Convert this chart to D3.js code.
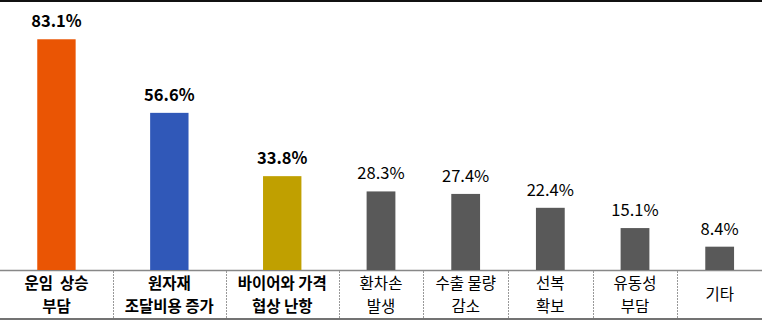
<!DOCTYPE html>
<html>
<head>
<meta charset="utf-8">
<script src="https://cdn.jsdelivr.net/npm/d3@7"></script>
<style>
  body { margin: 0; background: #fff; }
  text { font-family: "Noto Sans CJK KR", "Noto Sans", sans-serif; }
</style>
</head>
<body>
<div id="chart"></div>
<script>
// data
const categories = [
  ['운임  상승', '부담'],
  ['원자재', '조달비용 증가'],
  ['바이어와 가격', '협상 난항'],
  ['환차손', '발생'],
  ['수출 물량', '감소'],
  ['선복', '확보'],
  ['유동성', '부담'],
  ['기타']
];
const values = [83.1, 56.6, 33.8, 28.3, 27.4, 22.4, 15.1, 8.4];
const barColors = ['#ea5504', '#3058b8', '#c0a000', '#595959', '#595959', '#595959', '#595959', '#595959'];

const width = 762;
const height = 320;
const baseY = 270;
const topCount = 3;   // first three are emphasised: wider column, bold text

const svg = d3.select('#chart')
  .append('svg')
    .attr('width', width)
    .attr('height', height)
    .attr('viewBox', [0, 0, width, height]);

// wider columns for the top three, using cumulative units
const weights = values.map((d, i) => i < topCount ? 4 / 3 : 1);
const edges = [0];
weights.forEach(w => edges.push(edges[edges.length - 1] + w));
const x = d3.scaleLinear()
  .domain([0, edges[edges.length - 1]])
  .range([0, width]);

const y = d3.scaleLinear()
  .domain([0, 85])
  .range([baseY, 34]);

const cols = values.map((v, i) => ({
  v: v,
  i: i,
  x0: x(edges[i]),
  x1: x(edges[i + 1]),
  label: categories[i],
  color: barColors[i]
}));

// frame lines
svg.append('line')
  .attr('x1', 0).attr('x2', width)
  .attr('y1', 1).attr('y2', 1)
  .attr('stroke', '#111')
  .attr('stroke-width', 2);

svg.append('line')
  .attr('x1', 0).attr('x2', width)
  .attr('y1', baseY + 0.5).attr('y2', baseY + 0.5)
  .attr('stroke', '#888')
  .attr('stroke-width', 1.5);

svg.append('line')
  .attr('x1', 0).attr('x2', width)
  .attr('y1', height - 1).attr('y2', height - 1)
  .attr('stroke', '#444')
  .attr('stroke-width', 1.5);

// dashed dividers in the label row
svg.selectAll('.divider')
  .data(cols.slice(1))
  .join('line')
    .attr('class', 'divider')
    .attr('x1', d => Math.round(d.x0) + 0.5)
    .attr('x2', d => Math.round(d.x0) + 0.5)
    .attr('y1', baseY + 1)
    .attr('y2', height - 2)
    .attr('stroke', '#999')
    .attr('stroke-width', 1)
    .attr('stroke-dasharray', '2,1');

const g = svg.selectAll('.col')
  .data(cols)
  .join('g')
    .attr('class', 'col');

// bars
g.append('rect')
  .attr('x', d => (d.x0 + d.x1) / 2 - (d.x1 - d.x0) * 0.17)
  .attr('width', d => (d.x1 - d.x0) * 0.34)
  .attr('y', d => y(d.v))
  .attr('height', d => baseY - y(d.v))
  .attr('fill', d => d.color);

// value labels
g.append('text')
  .attr('x', d => (d.x0 + d.x1) / 2)
  .attr('y', d => y(d.v) - 12)
  .attr('text-anchor', 'middle')
  .style('font-size', '16.5px')
  .style('font-weight', d => d.i < topCount ? 'bold' : 'normal')
  .attr('fill', '#000')
  .text(d => d.v.toFixed(1) + '%');

// category labels
const catText = g.append('text')
  .attr('text-anchor', 'middle')
  .style('font-size', '15.5px')
  .style('font-weight', d => d.i < topCount ? 'bold' : 'normal')
  .style('white-space', 'pre')
  .attr('fill', '#000');

catText.selectAll('tspan')
  .data(d => d.label.map((t, k) => ({ t: t, k: k, n: d.label.length, cx: (d.x0 + d.x1) / 2 })))
  .join('tspan')
    .attr('x', d => d.cx)
    .attr('y', d => d.n === 1 ? 300 : 289 + d.k * 23)
    .text(d => d.t);
</script>
</body>
</html>
